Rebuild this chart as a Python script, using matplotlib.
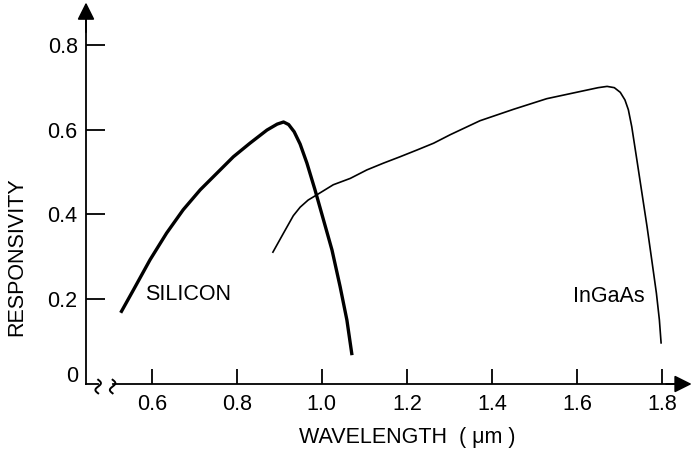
import numpy as np
import matplotlib
matplotlib.use("Agg")
import matplotlib.pyplot as plt

# values
silicon_wl = [0.527, 0.557, 0.596, 0.635, 0.674, 0.714, 0.753, 0.792, 0.831,
              0.871, 0.895, 0.910, 0.922, 0.935, 0.949, 0.965, 0.984, 1.004,
              1.024, 1.043, 1.059, 1.071]
silicon_resp = [0.168, 0.222, 0.293, 0.356, 0.411, 0.458, 0.497, 0.536, 0.568,
                0.599, 0.613, 0.618, 0.612, 0.595, 0.566, 0.521, 0.458, 0.387,
                0.316, 0.230, 0.151, 0.068]

ingaas_wl = [0.885, 0.910, 0.933, 0.949, 0.968, 0.988, 1.027, 1.067, 1.106,
             1.145, 1.184, 1.224, 1.263, 1.302, 1.372, 1.451, 1.529, 1.608,
             1.650, 1.671, 1.688, 1.702, 1.713, 1.721, 1.729, 1.741, 1.753,
             1.765, 1.776, 1.787, 1.794, 1.798]
ingaas_resp = [0.311, 0.356, 0.397, 0.417, 0.434, 0.446, 0.470, 0.485, 0.505,
               0.521, 0.536, 0.552, 0.568, 0.588, 0.621, 0.648, 0.673, 0.690,
               0.699, 0.702, 0.699, 0.688, 0.670, 0.647, 0.607, 0.529, 0.450,
               0.371, 0.293, 0.214, 0.151, 0.097]

x_ticks = [0.6, 0.8, 1.0, 1.2, 1.4, 1.6, 1.8]
x_tick_labels = ["0.6", "0.8", "1.0", "1.2", "1.4", "1.6", "1.8"]
y_ticks = [0.2, 0.4, 0.6, 0.8]
y_tick_labels = ["0.2", "0.4", "0.6", "0.8"]

plt.rcParams['font.family'] = ['Liberation Sans', 'DejaVu Sans']
FS = 15.5

W, H = 692, 450
fig = plt.figure(figsize=(W / 100, H / 100), dpi=100)
ax = fig.add_axes([86 / W, 66 / H, 604 / W, 379 / H])

x0, x1 = 0.4454, 1.866
y0, y1 = 0.0, 0.894
ax.set_xlim(x0, x1)
ax.set_ylim(y0, y1)

for s in ax.spines.values():
    s.set_visible(False)

# curves
ax.plot(silicon_wl, silicon_resp, color='black', lw=2.4, solid_capstyle='butt',
        solid_joinstyle='round')
ax.plot(ingaas_wl, ingaas_resp, color='black', lw=1.2, solid_joinstyle='round')

# axes drawn by hand, with arrowheads and a break on the x axis
axis_kw = dict(color='black', lw=1.3, clip_on=False)
arrow_kw = dict(arrowstyle='-|>', color='black', lw=1.3,
                mutation_scale=26, shrinkA=0, shrinkB=0)
ax.plot([x0, x0], [0, 0.86], **axis_kw)
ax.annotate('', xy=(x0, y1 + 0.006), xytext=(x0, 0.83),
            arrowprops=arrow_kw, annotation_clip=False)
brk_a, brk_b = 0.474, 0.508
ax.plot([x0, brk_a], [0, 0], **axis_kw)
ax.plot([brk_b, 1.84], [0, 0], **axis_kw)
ax.annotate('', xy=(x1 + 0.004, 0), xytext=(1.81, 0),
            arrowprops=arrow_kw, annotation_clip=False)
t = np.linspace(-1, 1, 30)
for xc in (brk_a, brk_b):
    ax.plot(xc + 0.0065 * np.sin(np.pi * t), 0.016 * t - 0.006,
            color='black', lw=1.4, clip_on=False)

# ticks
ax.set_xticks(x_ticks)
ax.set_xticklabels(x_tick_labels)
ax.set_yticks(y_ticks)
ax.set_yticklabels(y_tick_labels)
ax.tick_params(axis='x', direction='in', length=10.5, width=1.3, pad=7,
               labelsize=FS)
ax.tick_params(axis='y', direction='in', length=13.5, width=1.3, pad=6,
               labelsize=FS)
ax.text(x0 - 0.019, 0.017, "0", ha='right', va='center', fontsize=FS)

fig.text(407 / W, 1 - 437 / H, "WAVELENGTH  ( \u03bcm )", fontsize=FS,
         ha='center', va='center')
fig.text(17 / W, 1 - 257 / H, "RESPONSIVITY", fontsize=FS, rotation=90,
         ha='center', va='center')

ax.text(0.584, 0.21, "SILICON", fontsize=FS, ha='left', va='center')
ax.text(1.591, 0.206, "InGaAs", fontsize=FS, ha='left', va='center')

fig.savefig("out.png", dpi=100)
